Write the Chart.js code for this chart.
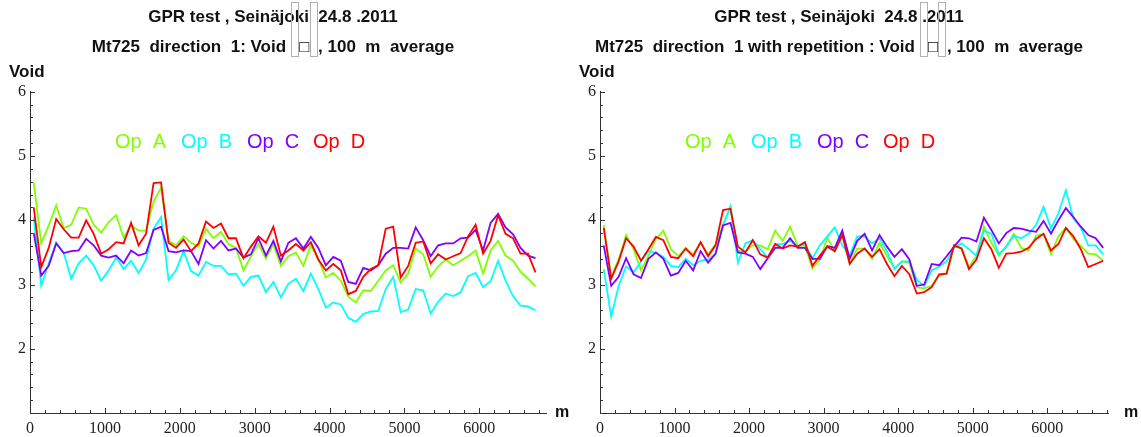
<!DOCTYPE html>
<html>
<head>
<meta charset="utf-8">
<script src="https://cdn.jsdelivr.net/npm/chart.js@4.4.0/dist/chart.umd.min.js"></script>
<style>
  body { margin: 0; background: #fff; }
  .wrap { display: flex; width: 1141px; height: 437px; }
</style>
</head>
<body>
<div class="wrap">
  <canvas id="voidDir1" width="570" height="437"></canvas>
  <canvas id="voidRep" width="571" height="437"></canvas>
</div>
<script>
// distance along the road (m), centre of each 100 m window
const distance = [50,150,250,350,450,550,650,750,850,950,1050,1150,1250,1350,1450,1550,1650,1750,1850,1950,
  2050,2150,2250,2350,2450,2550,2650,2750,2850,2950,3050,3150,3250,3350,3450,3550,3650,3750,3850,3950,
  4050,4150,4250,4350,4450,4550,4650,4750,4850,4950,5050,5150,5250,5350,5450,5550,5650,5750,5850,5950,
  6050,6150,6250,6350,6450,6550,6650,6750];

const operators = ['Op  A', 'Op  B', 'Op  C', 'Op  D'];
const opColors = ['#80ff00', '#00ffff', '#8000ff', '#ff0000'];

const xTicks = [0, 1000, 2000, 3000, 4000, 5000, 6000];
const yTicks = [2, 3, 4, 5, 6];

// direction 1, void content (%)
const dir1A = [4.59,3.64,3.92,4.23,3.88,3.93,4.20,4.18,3.93,3.81,3.97,4.08,3.73,3.92,3.84,3.84,4.29,4.51,3.68,3.61,
  3.75,3.65,3.59,3.87,3.72,3.82,3.63,3.57,3.22,3.44,3.63,3.40,3.63,3.29,3.44,3.50,3.29,3.61,3.39,3.11,
  3.18,3.06,2.81,2.72,2.91,2.90,3.06,3.22,3.30,3.03,3.17,3.56,3.47,3.12,3.28,3.39,3.30,3.37,3.44,3.53,
  3.17,3.53,3.68,3.45,3.37,3.20,3.09,2.97];
const dir1B = [4.04,2.98,3.33,3.65,3.49,3.09,3.33,3.45,3.30,3.06,3.22,3.42,3.24,3.37,3.18,3.39,3.87,4.05,3.07,3.22,
  3.52,3.21,3.14,3.35,3.29,3.29,3.16,3.17,2.98,3.12,3.14,2.88,3.04,2.80,3.01,3.09,2.90,3.17,2.93,2.64,
  2.72,2.69,2.48,2.42,2.54,2.58,2.59,2.93,3.12,2.57,2.61,2.93,2.91,2.55,2.73,2.86,2.82,2.88,3.13,3.18,
  2.96,3.05,3.37,3.06,2.82,2.67,2.66,2.60];
const dir1C = [3.80,3.14,3.29,3.64,3.49,3.52,3.53,3.71,3.61,3.45,3.42,3.45,3.33,3.53,3.45,3.49,3.85,3.90,3.52,3.50,
  3.53,3.52,3.32,3.69,3.56,3.68,3.53,3.56,3.42,3.47,3.72,3.45,3.68,3.36,3.65,3.72,3.56,3.74,3.57,3.30,
  3.43,3.37,3.04,3.01,3.26,3.22,3.30,3.48,3.57,3.57,3.56,3.89,3.69,3.44,3.61,3.64,3.64,3.72,3.73,3.85,
  3.53,3.96,4.10,3.89,3.78,3.57,3.45,3.41];
const dir1D = [4.20,3.27,3.57,4.02,3.86,3.73,3.73,4.00,3.79,3.48,3.55,3.66,3.64,3.96,3.61,3.79,4.58,4.59,3.65,3.57,
  3.70,3.52,3.64,3.98,3.88,3.95,3.72,3.72,3.41,3.59,3.75,3.65,3.90,3.45,3.53,3.63,3.53,3.66,3.39,3.22,
  3.32,3.22,2.85,2.90,3.12,3.24,3.30,3.87,3.90,3.11,3.29,3.65,3.67,3.33,3.47,3.39,3.44,3.49,3.75,3.93,
  3.48,3.68,4.08,3.79,3.72,3.48,3.48,3.19];

// direction 1 with repetition
const repA = [3.93,3.12,3.39,3.77,3.55,3.22,3.45,3.71,3.84,3.55,3.44,3.57,3.47,3.65,3.47,3.63,3.92,4.21,3.52,3.52,
  3.61,3.61,3.55,3.84,3.68,3.90,3.61,3.60,3.25,3.39,3.73,3.52,3.81,3.33,3.56,3.56,3.40,3.65,3.44,3.25,
  3.36,3.34,2.96,2.94,2.98,3.14,3.17,3.60,3.56,3.28,3.44,3.90,3.65,3.45,3.59,3.79,3.57,3.53,3.76,3.79,
  3.47,3.75,3.88,3.71,3.60,3.48,3.47,3.37];
const repB = [3.24,2.50,2.98,3.28,3.19,3.36,3.52,3.49,3.43,3.29,3.27,3.40,3.30,3.37,3.39,3.47,3.93,4.21,3.34,3.64,
  3.69,3.55,3.42,3.63,3.63,3.68,3.59,3.63,3.41,3.61,3.75,3.89,3.61,3.45,3.75,3.75,3.64,3.72,3.52,3.24,
  3.36,3.36,3.07,2.98,3.22,3.28,3.36,3.57,3.64,3.55,3.45,3.84,3.79,3.47,3.59,3.76,3.72,3.79,3.93,4.21,
  3.87,4.11,4.47,4.03,3.89,3.61,3.61,3.47];
const repC = [3.61,2.98,3.12,3.41,3.16,3.10,3.40,3.50,3.40,3.14,3.18,3.37,3.22,3.52,3.34,3.48,3.92,3.96,3.50,3.48,
  3.43,3.24,3.41,3.57,3.57,3.72,3.57,3.57,3.40,3.40,3.60,3.57,3.84,3.40,3.68,3.79,3.53,3.77,3.59,3.43,
  3.55,3.39,2.98,3.00,3.32,3.30,3.44,3.59,3.73,3.72,3.67,4.04,3.85,3.64,3.80,3.88,3.87,3.84,3.82,3.99,
  3.79,4.00,4.19,4.05,3.90,3.77,3.72,3.57];
const repD = [3.88,3.09,3.36,3.72,3.59,3.37,3.55,3.74,3.69,3.43,3.41,3.56,3.44,3.66,3.44,3.61,4.16,4.18,3.59,3.50,
  3.69,3.47,3.42,3.63,3.56,3.61,3.59,3.66,3.29,3.45,3.59,3.52,3.77,3.32,3.48,3.56,3.43,3.55,3.32,3.13,
  3.29,3.16,2.86,2.88,2.96,3.16,3.17,3.61,3.56,3.24,3.39,3.72,3.55,3.26,3.48,3.49,3.51,3.57,3.71,3.79,
  3.53,3.63,3.88,3.75,3.55,3.27,3.32,3.37];

const titleText = 'GPR test , Seinäjoki  24.8 .2011';
const GAP = '\u2002';
const HEAD_FONT = 'bold 17px "Liberation Sans"';

// inward tick marks (major + minor), axis names, legend and the broken glyph boxes
const decorations = {
  id: 'decorations',
  afterDraw(chart, args, opts) {
    const { ctx, chartArea: a, scales: { x, y } } = chart;
    ctx.save();
    ctx.strokeStyle = '#333';
    ctx.lineWidth = 1;
    ctx.beginPath();
    for (let i = 0; i * 200 <= x.max; i++) {
      const px = Math.round(x.getPixelForValue(i * 200)) + 0.5;
      ctx.moveTo(px, a.bottom);
      ctx.lineTo(px, a.bottom - (i % 5 === 0 ? 5 : 3));
    }
    for (let i = 0; i <= 25; i++) {
      const py = Math.round(y.getPixelForValue(1 + i * 0.2)) + 0.5;
      ctx.moveTo(a.left, py);
      ctx.lineTo(a.left + (i % 5 === 0 ? 5 : 3), py);
    }
    ctx.stroke();

    ctx.fillStyle = '#111';
    ctx.font = HEAD_FONT;
    ctx.textBaseline = 'middle';
    ctx.textAlign = 'left';
    ctx.fillText('Void', 9, 72);
    ctx.font = 'bold 16px "Liberation Sans"';
    ctx.fillText('m', a.right + opts.mOffset, a.bottom);

    // legend inside the plot
    ctx.font = '20px "Liberation Sans"';
    chart.data.datasets.forEach((ds, i) => {
      ctx.fillStyle = ds.borderColor;
      ctx.fillText(ds.label, a.left + opts.legendX + i * 66, 142);
    });

    // tall empty boxes left by the missing unit glyphs
    ctx.font = HEAD_FONT;
    const sub = opts.subtitle;
    const cx = (chart.width - opts.padRight) / 2;
    const x0 = cx - ctx.measureText(sub).width / 2;
    const b1 = x0 + ctx.measureText(sub.slice(0, sub.indexOf(GAP))).width;
    const b2 = x0 + ctx.measureText(sub.slice(0, sub.lastIndexOf(GAP))).width;
    ctx.strokeStyle = '#b0b0b0';
    ctx.strokeRect(Math.round(b1) + 0.5, 2.5, 7, 54);
    ctx.strokeRect(Math.round(b2) + 0.5, 2.5, 7, 54);
    ctx.restore();
  }
};

function drawVoidChart(id, subtitle, series, xMax, padRight, mOffset) {
  return new Chart(document.getElementById(id), {
    type: 'line',
    data: {
      datasets: series.map((vals, i) => ({
        label: operators[i],
        data: distance.map((d, k) => ({ x: d, y: vals[k] })),
        borderColor: opColors[i],
        backgroundColor: opColors[i],
        borderWidth: 1.8,
        pointRadius: 0,
        tension: 0,
        order: 4 - i
      }))
    },
    options: {
      responsive: false,
      animation: false,
      layout: { padding: { left: 0, right: padRight, top: 0, bottom: 0 } },
      plugins: {
        legend: { display: false },
        tooltip: { enabled: false },
        title: {
          display: true,
          text: titleText,
          color: '#111',
          font: { family: 'Liberation Sans', size: 17, weight: 'bold' },
          padding: { top: 7, bottom: 10 }
        },
        subtitle: {
          display: true,
          text: subtitle,
          color: '#111',
          font: { family: 'Liberation Sans', size: 17, weight: 'bold' },
          padding: { top: 0, bottom: 34 }
        },
        decorations: { subtitle: subtitle, padRight: padRight, legendX: 85, mOffset: mOffset }
      },
      scales: {
        x: {
          type: 'linear',
          min: 0,
          max: xMax,
          afterBuildTicks: s => { s.ticks = xTicks.map(v => ({ value: v })); },
          afterFit: s => { s.height = 24; },
          grid: { display: false, drawTicks: false },
          border: { display: true, color: '#333', width: 1 },
          ticks: {
            padding: 6,
            maxRotation: 0,
            autoSkip: false,
            color: '#222',
            font: { family: 'Liberation Serif', size: 16 },
            callback: v => String(v)
          }
        },
        y: {
          min: 1,
          max: 6,
          afterBuildTicks: s => { s.ticks = yTicks.map(v => ({ value: v })); },
          afterFit: s => { s.width = 30; },
          grid: { display: false, drawTicks: false },
          border: { display: true, color: '#333', width: 1 },
          ticks: {
            padding: 4,
            color: '#222',
            font: { family: 'Liberation Serif', size: 16 },
            callback: v => String(v)
          }
        }
      }
    },
    plugins: [decorations]
  });
}

drawVoidChart('voidDir1',
  'Mt725  direction  1: Void ' + GAP + '\u25A1' + GAP + ', 100  m  average',
  [dir1A, dir1B, dir1C, dir1D], 6890, 24, 9);

drawVoidChart('voidRep',
  'Mt725  direction  1 with repetition : Void ' + GAP + '\u25A1' + GAP + ', 100  m  average',
  [repA, repB, repC, repD], 6815, 33, 16);
</script>
</body>
</html>
